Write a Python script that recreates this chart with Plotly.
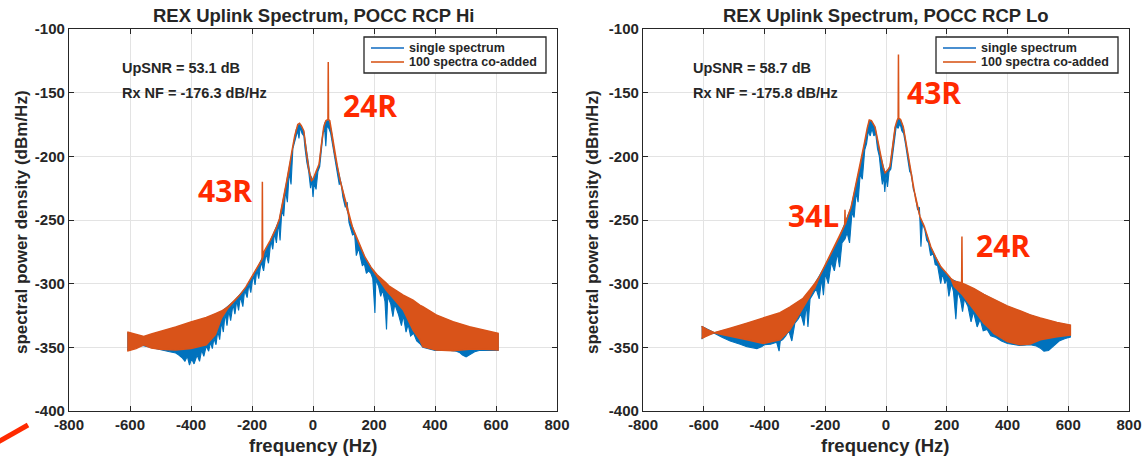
import plotly.graph_objects as go

# ---------------- data ----------------
# Left panel: POCC RCP Hi
hi_co_f = [-609, -580, -555, -530, -500, -450, -400, -350, -320, -300, -280, -260, -240, -220, -200, -180,
           -167, -166, -165, -160, -140, -120, -110, -100, -90, -80, -70, -60, -50, -44, -38, -30, -22, -14,
           -5, 0, 10, 20, 28, 35, 42, 49, 50, 51, 55, 62, 70, 80, 90, 100, 110, 120, 130, 150, 170, 190,
           200, 210, 240, 250, 296, 328, 350, 360, 404, 459, 513, 560, 607]
hi_co_top = [-338, -340, -341.5, -339.5, -337.5, -334, -330, -326.5, -323.5, -321.5, -318.5, -313.5, -309, -302.5, -294.5, -286,
             -281, -220, -280, -274.5, -266, -256, -249, -238, -224, -213, -197, -184, -175, -174, -176, -180, -196, -210,
             -219, -218, -212, -206, -190, -177, -172, -171, -126, -171, -172, -183, -196, -208, -220, -229, -240, -249, -256, -268, -279, -287,
             -290.5, -293, -299.5, -302, -309, -313, -316.8, -318, -324.6, -329.8, -333.8, -336.5, -339]
hi_co_bot = [-353, -351, -348, -350.5, -351.5, -352, -351, -348, -340, -327, -319.5, -314, -309, -302.5, -294.5, -286,
             -281, -280.5, -280, -274.5, -266, -256, -249, -238, -224, -213, -197, -184, -175, -174, -176, -180, -196, -210,
             -219, -218, -212, -206, -190, -177, -172, -171, -171, -171, -172, -183, -196, -208, -220, -229, -240, -249, -256, -268, -279, -287,
             -291, -294.5, -305, -307.6, -320.7, -336.4, -344, -349.5, -352, -352.6, -351.6, -351.5, -352]

hi_single_top_f = [-609, -555, -500, -450, -400, -350, -300, -260, -220, -180, -140, -110, -90, -70, -55, -46, -40, -30,
                   -20, -10, 0, 10, 20, 30, 38, 45, 52, 60, 70, 80, 90, 100, 110, 120, 140, 170, 200, 250, 300, 350,
                   400, 450, 500, 560, 607]
hi_single_top = [-339, -342, -338, -334.5, -330.5, -327, -322, -314, -303, -286.5, -266.5, -249.5, -224.5, -197.5, -179, -175, -175.5, -181,
                 -199, -214, -219, -213, -207, -186, -174, -172, -172, -180, -196.5, -208.5, -220.5, -229.5, -240.5, -249.5, -262.5, -279.5, -291, -302.5, -310, -317.5,
                 -324.5, -329.5, -333.5, -337, -339.5]
hi_single_bot_f = [-609, -560, -500, -470, -450, -440, -430, -420, -412, -405, -398, -390, -380, -372, -365, -358,
                   -350, -342, -336, -330, -325, -318, -312, -306, -300, -294, -288, -282, -276, -270, -262, -256,
                   -250, -244, -238, -230, -224, -216, -210, -204, -196, -190, -184, -178, -170, -162, -154, -146,
                   -138, -132, -126, -120, -113, -108, -102, -96, -90, -84, -78, -72, -66, -60,
                   -55, -50, -46, -42, -36, -30, -26, -20, -14, -8, -4, 0, 4, 10, 16, 22, 28, 33, 38, 42, 46, 52, 58, 64,
                   70, 78, 86, 92, 98, 106, 112, 118, 124, 130, 136, 142, 150, 156, 162, 168, 175, 182, 190, 196, 203,
                   206, 215, 222, 228, 236, 241, 245, 255, 262, 268, 280, 290, 296, 305, 312, 320, 330, 340, 350, 360, 400,
                   450, 470, 480, 490, 502, 515, 530, 545, 600, 607]
hi_single_bot = [-352, -348.5, -352, -353.5, -354.5, -356, -358, -361, -357, -364, -359, -363, -356, -361, -352, -357,
                 -349, -353, -346, -351, -343, -348, -337, -344, -330, -338, -323, -333, -321, -329, -316, -324,
                 -313, -321, -310, -318, -305, -311, -300, -307, -293, -301, -289, -296, -283, -290, -276, -284,
                 -266, -273, -260, -268, -252, -266, -242, -247, -227, -236, -212, -222, -194, -188,
                 -184, -180, -186, -177, -182, -184, -194, -205, -212, -225, -218, -232, -221, -226, -212, -208, -194, -182, -178, -192, -176, -178, -182, -190,
                 -198, -210, -222, -221, -232, -240, -236, -252, -256, -262, -260, -278, -272, -280, -286, -284, -292, -290, -292, -296, -323,
                 -297, -302, -310, -305, -314, -336, -310, -316, -326, -316, -324, -333, -325, -338, -332, -341, -339, -345, -347, -350, -352.5,
                 -352.5, -353, -354, -356, -357.5, -356, -353.5, -352.5, -352.5, -352.5]

# Right panel: POCC RCP Lo
lo_co_f = [-607, -590, -565, -540, -513, -458, -404, -349, -317, -306, -284, -273, -251, -240, -235, -219, -197, -175,
           -153, -136, -135, -134, -131, -115, -108, -100, -86, -69, -62, -55, -48, -36, -28, -20, -10, -3, 5, 13,
           22, 30, 36, 40, 41, 42, 48, 57, 65, 73.5, 82, 90, 98, 112, 126, 134, 147.5, 165, 180, 200, 213, 224,
           249, 250, 251, 257, 290, 322, 344, 355, 399, 443, 453, 475, 508, 563, 607]
lo_co_top = [-333.5, -336, -338.5, -337, -335, -331, -327, -322.8, -318.5, -316.8, -313.5, -311.5, -305, -302, -300, -294.5, -284, -273.6,
             -263, -254, -242, -253.5, -251, -240, -232, -223, -208, -187, -178, -171.5, -172, -177, -187, -197, -208, -213, -211, -208,
             -193, -177, -172, -170, -120, -170, -171, -177, -188, -200, -212, -224, -234, -247.4, -255, -261, -271, -280, -286.6, -292, -295.8, -298,
             -299.3, -263, -299.5, -300.3, -304, -308.5, -311, -312.5, -317.5, -321.5, -322.5, -324.5, -327, -330.5, -332.5]
lo_co_bot = [-343, -341, -338.5, -340, -341.6, -344, -346.9, -344, -336.4, -332, -323, -319, -310, -305, -303.7, -294.5, -284, -273.6,
             -263, -254, -253.8, -253.5, -251, -240, -232, -223, -208, -187, -178, -171.5, -172, -177, -187, -197, -208, -213, -211, -208,
             -193, -177, -172, -170, -170, -170, -171, -177, -188, -200, -212, -224, -234, -247.4, -255, -261, -271, -280, -286.6, -292, -295.8, -302,
             -308, -308.3, -308.6, -310, -320.7, -331, -336, -339, -345.5, -348, -348, -347.4, -344, -341.6, -340.3]

lo_single_top_f = [-607, -565, -513, -458, -404, -349, -306, -273, -240, -197, -153, -115, -86, -69, -55, -48, -36, -20, -3,
                   13, 30, 40, 48, 57, 73.5, 90, 112, 134, 147.5, 180, 213, 253, 290, 344, 399, 453, 508, 563, 607]
lo_single_top = [-333.5, -338.5, -335.5, -331.5, -327.5, -323.3, -317.3, -312, -302.5, -284.5, -263.5, -240, -208.5, -187.5, -172, -172.5, -177.5, -197.5, -213.5,
                 -208.5, -177.5, -170.5, -171.5, -177.5, -200.5, -224.5, -248, -261.5, -271.5, -287, -296.3, -300.3, -304.3, -311.3, -317.8, -322.8, -327.3, -330.8, -332.8]
lo_single_bot_f = [-607, -590, -565, -540, -513, -480, -458, -440, -425, -410, -400, -380, -360, -352, -348, -340, -330, -320,
                   -310, -300, -290, -280, -270, -262, -257, -250, -240, -230, -220, -212, -206, -200, -190, -180, -170, -160,
                   -153, -145, -135, -128, -120, -112, -105, -98, -92, -85, -78, -70, -64, -58, -52, -46, -40, -34, -28,
                   -22, -16, -12, -8, -4, 0, 5, 10, 16, 22, 28, 34, 40, 46, 52, 58, 64, 70, 78, 84, 90, 96, 104, 110, 115,
                   120, 128, 134, 140, 147, 155, 162, 170, 180, 186, 194, 200, 207, 215, 222, 230, 236, 245, 252, 258,
                   270, 280, 288, 300, 310, 320, 333, 345, 360, 380, 400, 440, 475, 495, 510, 520, 535, 550, 570, 590, 607]
lo_single_bot = [-343.5, -340, -339, -342, -345, -347.5, -349.5, -350.5, -351, -349.5, -348, -347.5, -346, -353, -345, -344, -341, -337,
                 -345, -331, -328, -324, -333, -316, -334, -312, -308, -304, -312, -296, -309, -292, -300, -283, -290, -276,
                 -287, -268, -265, -260, -268, -244, -248, -228, -236, -214, -218, -195, -190, -180, -184, -178, -184, -182, -194,
                 -200, -214, -222, -215, -228, -216, -224, -212, -210, -198, -186, -176, -178, -174, -180, -182, -190, -198, -212, -214, -226, -230, -242, -240, -271,
                 -252, -258, -266, -268, -278, -276, -285, -286, -300, -292, -300, -296, -310, -300, -306, -328, -306, -312, -322, -312,
                 -318, -330, -322, -334, -328, -337, -336, -341, -342, -345, -347, -348.5, -348, -349, -351, -353, -352.5, -349, -345, -343, -342]

x_ticks = [-800, -600, -400, -200, 0, 200, 400, 600, 800]
x_tick_labels = ["-800", "-600", "-400", "-200", "0", "200", "400", "600", "800"]
y_ticks = [-400, -350, -300, -250, -200, -150, -100]
y_tick_labels = ["-400", "-350", "-300", "-250", "-200", "-150", "-100"]

titles = ["REX Uplink Spectrum, POCC RCP Hi", "REX Uplink Spectrum, POCC RCP Lo"]
snr_text = ["UpSNR = 53.1 dB", "UpSNR = 58.7 dB"]
nf_text = ["Rx NF = -176.3 dB/Hz", "Rx NF = -175.8 dB/Hz"]
series_names = ["single spectrum", "100 spectra co-added"]

# ---------------- styling ----------------
W, H = 1146, 458
BLUE = "#0072BD"
ORANGE = "#D95319"
INK = "#262626"
RED = "#FF2A00"
FONT = "Liberation Sans, Arial, sans-serif"


def fx(p):
    return p / W


def fy(p):
    return 1 - p / H


def band(f_top, top, f_bot, bot):
    return list(f_top) + list(f_bot)[::-1], list(top) + list(bot)[::-1]


fig = go.Figure()

panels = [
    dict(xa="x", ya="y",
         single=(hi_single_top_f, hi_single_top, hi_single_bot_f, hi_single_bot),
         co=(hi_co_f, hi_co_top, hi_co_f, hi_co_bot)),
    dict(xa="x2", ya="y2",
         single=(lo_single_top_f, lo_single_top, lo_single_bot_f, lo_single_bot),
         co=(lo_co_f, lo_co_top, lo_co_f, lo_co_bot)),
]

for p in panels:
    sx, sy = band(*p["single"])
    fig.add_trace(go.Scatter(x=sx, y=sy, mode="lines", fill="toself", fillcolor=BLUE,
                             line=dict(color=BLUE, width=1.1), xaxis=p["xa"], yaxis=p["ya"],
                             hoverinfo="skip", showlegend=False, name=series_names[0]))
    cx, cy = band(*p["co"])
    fig.add_trace(go.Scatter(x=cx, y=cy, mode="lines", fill="toself", fillcolor=ORANGE,
                             line=dict(color=ORANGE, width=1.5), xaxis=p["xa"], yaxis=p["ya"],
                             hoverinfo="skip", showlegend=False, name=series_names[1]))

axis_common = dict(showgrid=True, gridcolor="#e3e3e3", gridwidth=1, zeroline=False, automargin=False,
                   showline=True, mirror="ticks", linecolor=INK, linewidth=1.2,
                   ticks="inside", ticklen=5, tickcolor=INK,
                   tickfont=dict(family=FONT, size=15, color=INK, weight="bold"))

fig.update_layout(
    width=W, height=H,
    margin=dict(l=0, r=0, t=0, b=0, autoexpand=False),
    paper_bgcolor="white", plot_bgcolor="white",
    showlegend=False,
    xaxis=dict(domain=[fx(69), fx(557)], range=[-800, 800], tickvals=x_ticks, ticktext=x_tick_labels,
               anchor="y", **axis_common),
    yaxis=dict(domain=[fy(411), fy(29)], range=[-400, -100], tickvals=y_ticks, ticktext=y_tick_labels,
               anchor="x", **axis_common),
    xaxis2=dict(domain=[fx(643), fx(1129)], range=[-800, 800], tickvals=x_ticks, ticktext=x_tick_labels,
                anchor="y2", **axis_common),
    yaxis2=dict(domain=[fy(411), fy(29)], range=[-400, -100], tickvals=y_ticks, ticktext=y_tick_labels,
                anchor="x2", **axis_common),
)

ann = []
shapes = []
centers = [313, 886]
ytitle_x = [21, 592]
text_x = [120, 691]
legend_left = [364, 936]
for i in range(2):
    ann.append(dict(text=titles[i], x=fx(centers[i]), y=fy(15), xref="paper", yref="paper",
                    showarrow=False, xanchor="center", yanchor="middle",
                    font=dict(family=FONT, size=18.5, color=INK, weight="bold")))
    ann.append(dict(text="frequency (Hz)", x=fx(centers[i]), y=fy(445), xref="paper", yref="paper",
                    showarrow=False, xanchor="center", yanchor="middle",
                    font=dict(family=FONT, size=18.5, color=INK, weight="bold")))
    ann.append(dict(text="spectral power density (dBm/Hz)", x=fx(ytitle_x[i]), y=fy(222), xref="paper",
                    yref="paper", showarrow=False, textangle=-90, xanchor="center", yanchor="middle",
                    font=dict(family=FONT, size=17, color=INK, weight="bold")))
    ann.append(dict(text=snr_text[i], x=fx(text_x[i]), y=fy(68), xref="paper", yref="paper",
                    showarrow=False, xanchor="left", yanchor="middle",
                    font=dict(family=FONT, size=14.5, color=INK, weight="bold")))
    ann.append(dict(text=nf_text[i], x=fx(text_x[i]), y=fy(93), xref="paper", yref="paper",
                    showarrow=False, xanchor="left", yanchor="middle",
                    font=dict(family=FONT, size=14.5, color=INK, weight="bold")))
    # legend box drawn like the MATLAB one
    bx = legend_left[i]
    shapes.append(dict(type="rect", xref="paper", yref="paper", x0=fx(bx), x1=fx(bx + 182),
                       y0=fy(73), y1=fy(37), line=dict(color=INK, width=1.3), fillcolor="white",
                       layer="above"))
    for k, (col, yy) in enumerate([("#4a8fd0", 48), ("#e07a4a", 62)]):
        shapes.append(dict(type="line", xref="paper", yref="paper", x0=fx(bx + 7), x1=fx(bx + 40),
                           y0=fy(yy), y1=fy(yy), line=dict(color=col, width=2), layer="above"))
        ann.append(dict(text=series_names[k], x=fx(bx + 43), y=fy(yy), xref="paper", yref="paper",
                        showarrow=False, xanchor="left", yanchor="middle",
                        font=dict(family=FONT, size=12.5, color=INK, weight="bold")))

red_labels = [("24R", 370, 105), ("43R", 225, 191), ("43R", 934, 93), ("34L", 813, 215), ("24R", 1003, 245)]
for t, x, y in red_labels:
    ann.append(dict(text=t, x=fx(x), y=fy(y), xref="paper", yref="paper", showarrow=False,
                    xanchor="center", yanchor="middle",
                    font=dict(family="Open Sans, sans-serif", size=30, color=RED, weight="bold")))

shapes.append(dict(type="line", xref="paper", yref="paper", x0=fx(-2), y0=fy(442), x1=fx(28), y1=fy(425),
                   line=dict(color=RED, width=5)))

fig.update_layout(annotations=ann, shapes=shapes)

fig.write_html("out.html")
